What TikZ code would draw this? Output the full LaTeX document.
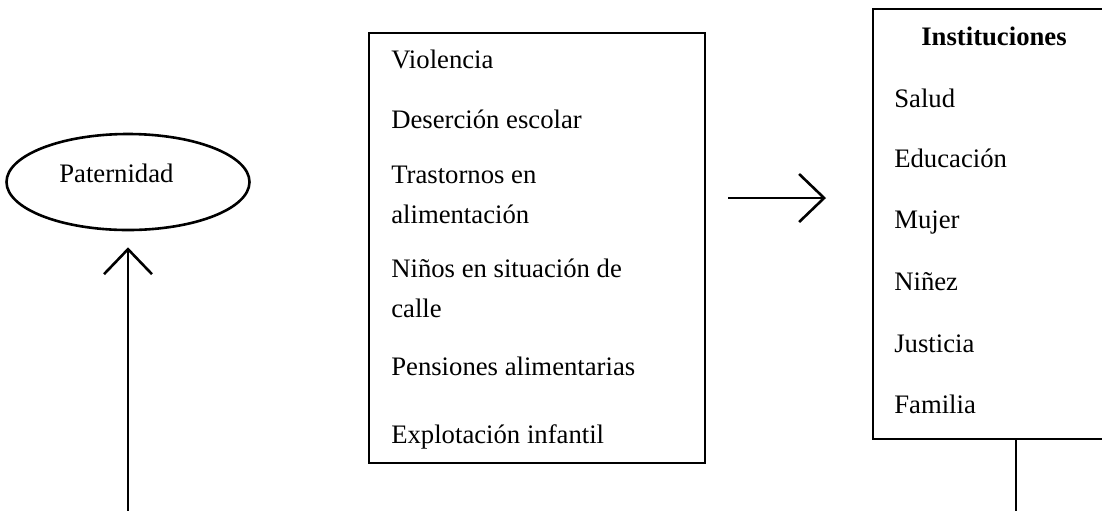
\documentclass[tikz,border=0pt]{standalone}
\usepackage{fontspec}
\setmainfont{Liberation Serif}
\usetikzlibrary{arrows.meta}
\usetikzlibrary{shapes.geometric}

\begin{document}
\begin{tikzpicture}[x=0.5pt, y=-0.5pt, line width=1.3pt,
		every node/.style={font=\fontsize{13.35}{20}\selectfont},
		item/.style={anchor=base west, align=left, inner sep=0pt},
		box/.style={draw, rectangle, minimum width=#1, minimum height=215pt, inner sep=0pt},
		openarrow/.style={-{Straight Barb[length=12.5pt, width=24pt]}}]
		\clip (0,0) rectangle (1102,510);
		% left
		\node[ellipse, draw, minimum width=121.5pt, minimum height=48pt, inner sep=0pt] (pat) at (128,182) {};
		\node[item] (pattxt) at (58,182) {Paternidad};
		\coordinate (patbot) at (128,512);
		\draw[openarrow, shorten >=8pt] (patbot) -- (pat.south);
		% middle
		\node[box=168pt] (mid) at (537,248) {};
		\node[item] (viol) at (390,68) {Violencia};
		\node[item] (deser) at (390,128) {Deserción escolar};
		\node[item] (trast) at (390,223) {Trastornos en\\alimentación};
		\node[item] (ninos) at (390,317) {Niños en situación de\\calle};
		\node[item] (pens) at (390,375) {Pensiones alimentarias};
		\node[item] (explo) at (390,443) {Explotación infantil};
		\coordinate (arra) at (728,198);
		\coordinate (arrb) at (826,198);
		\draw[openarrow] (arra) -- (arrb);
		% right
		\node[box=121pt] (inst) at (994,224) {};
		\node[anchor=base, inner sep=0pt, font=\fontsize{13.35}{20}\selectfont\bfseries] (titulo) at (994,45) {Instituciones};
		\node[item] (salud) at (893,107) {Salud};
		\node[item] (educ) at (893,167) {Educación};
		\node[item] (mujer) at (893,228) {Mujer};
		\node[item] (ninez) at (893,290) {Niñez};
		\node[item] (just) at (893,352) {Justicia};
		\node[item] (fam) at (893,413) {Familia};
		\coordinate (instend) at (1016,512);
		\draw (instend |- inst.south) -- (instend);
	\end{tikzpicture}
\end{document}
